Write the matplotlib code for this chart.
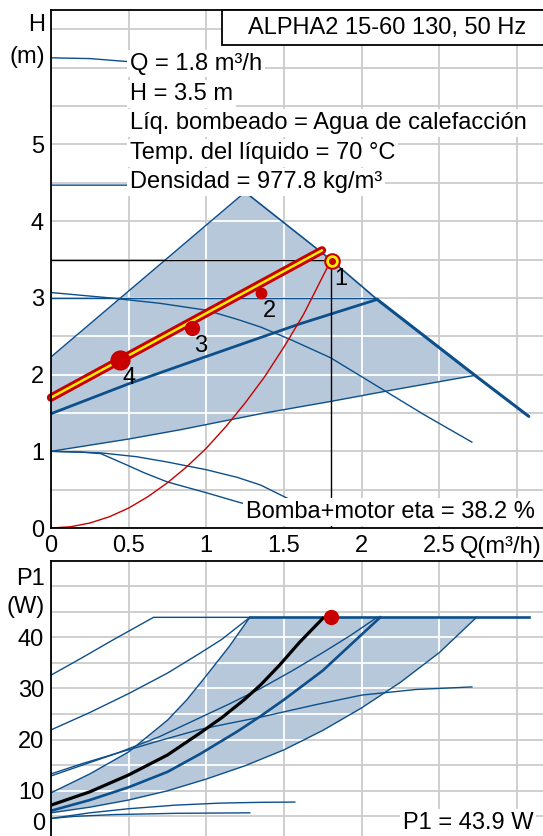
import matplotlib
matplotlib.use("agg")
import matplotlib.pyplot as plt
from matplotlib.patches import Polygon, Rectangle
import numpy as np

plt.rcParams["font.family"] = ["Liberation Sans", "DejaVu Sans"]

BLUE = "#0d4f8b"
SHADE = "#b6c8da"
GRID = "#cccccc"
RED = "#c80000"
YELLOW = "#fff000"
FS = 17

# ---------------- H(Q) chart ----------------
q_area_top = [0.0, 1.25]
h_area_top = [2.23, 4.38]
q_max = [1.25, 1.8, 2.1, 2.73, 3.08]
h_max = [4.38, 3.50, 2.98, 1.99, 1.45]
q_min = [0.0, 0.5, 0.83, 1.35, 1.8, 2.2, 2.73]
h_min = [1.0, 1.16, 1.28, 1.49, 1.65, 1.80, 1.99]
q_pp = [0.0, 0.5, 1.09, 1.6, 2.1]
h_pp = [1.49, 1.88, 2.30, 2.66, 2.98]
q_cp = [0.0, 2.1]
h_cp = [3.0, 3.0]
q_c3 = [0.0, 0.38, 0.7, 1.0, 1.2, 1.35, 1.55, 1.8, 2.1, 2.4, 2.71]
h_c3 = [3.07, 3.0, 2.93, 2.84, 2.72, 2.62, 2.45, 2.22, 1.85, 1.48, 1.12]
q_low_a = [0.0, 0.32, 0.55, 0.75, 1.0, 1.2, 1.35, 1.51, 1.7]
h_low_a = [1.0, 0.98, 0.93, 0.86, 0.76, 0.66, 0.56, 0.40, 0.22]
q_low_b = [0.0, 0.2, 0.32, 0.4, 0.49, 0.6, 0.75, 1.0, 1.22, 1.4]
h_low_b = [1.0, 0.99, 0.97, 0.9, 0.82, 0.72, 0.60, 0.46, 0.33, 0.25]
q_top1 = [0.0, 0.25, 0.5, 0.8]
h_top1 = [6.13, 6.12, 6.08, 6.0]
q_top2 = [0.0, 0.5, 0.8]
h_top2 = [4.47, 4.47, 4.46]
q_sys = [0, 0.125, 0.25, 0.375, 0.5, 0.625, 0.75, 0.875, 1.0, 1.125, 1.25,
         1.375, 1.5, 1.625, 1.8]
h_sys = [0, 0.016, 0.065, 0.146, 0.26, 0.41, 0.59, 0.8, 1.04, 1.32, 1.63,
         1.97, 2.36, 2.78, 3.48]
q_op = [0.0, 1.745]
h_op = [1.70, 3.62]
duty_q, duty_h = 1.8, 3.5
pt_q = [1.81, 1.35, 0.906, 0.444]
pt_h = [3.48, 3.07, 2.61, 2.19]
pt_lab = ["1", "2", "3", "4"]

info = ["Q = 1.8 m³/h", "H = 3.5 m", "Líq. bombeado = Agua de calefacción",
        "Temp. del líquido = 70 °C", "Densidad = 977.8 kg/m³"]
info_y = [0.8966, 0.8378, 0.7818, 0.7239, 0.6679]

# ---------------- P1(Q) chart ----------------
q_pa_up = [0.0, 0.25, 0.5, 0.75, 0.875, 1.0, 1.15, 1.28]
p_pa_up = [9.6, 13.3, 17.6, 23.8, 27.8, 32.5, 38.3, 43.9]
q_pa_lo = [0.0, 0.25, 0.5, 0.75, 1.0, 1.25, 1.5, 1.75, 2.0, 2.25, 2.5, 2.74]
p_pa_lo = [5.7, 6.8, 8.2, 10.0, 12.3, 14.9, 18.0, 21.8, 26.2, 31.2, 37.0, 43.9]
q_p1 = [0.0, 0.2, 0.4, 0.66, 1.28]
p_p1 = [32.6, 36.0, 39.5, 43.9, 43.9]
q_p2 = [0.0, 0.25, 0.5, 0.75, 0.96, 1.1, 1.28]
p_p2 = [21.9, 25.3, 29.0, 33.0, 36.9, 39.6, 43.9]
q_pmax = [1.28, 3.08]
p_pmax = [43.9, 43.9]
q_pp_p = [0.0, 0.25, 0.5, 0.75, 0.96, 1.2, 1.35, 1.5, 1.75, 2.12]
p_pp_p = [6.1, 8.2, 10.7, 13.7, 17.2, 21.6, 24.6, 27.8, 33.5, 43.9]
q_cp_p = [0.0, 0.2, 0.43, 0.7, 0.96, 1.15, 1.35, 1.55, 1.75, 1.93, 2.1]
p_cp_p = [12.9, 15.0, 17.4, 20.6, 24.3, 27.0, 30.0, 33.4, 37.0, 40.4, 43.9]
q_c3_p = [0.0, 0.2, 0.43, 0.7, 0.96, 1.15, 1.35, 1.7, 2.0, 2.35, 2.71]
p_c3_p = [13.3, 15.3, 17.4, 19.8, 22.0, 23.2, 24.4, 26.8, 28.7, 29.8, 30.3]
q_lowa_p = [0.0, 0.25, 0.5, 0.8, 1.09, 1.35, 1.57]
p_lowa_p = [4.6, 5.7, 6.5, 7.2, 7.6, 7.75, 7.8]
q_lowb_p = [0.0, 0.15, 0.4, 0.8, 1.28]
p_lowb_p = [4.6, 5.0, 5.35, 5.6, 5.7]
q_op_p = [0.0, 0.25, 0.5, 0.75, 0.96, 1.1, 1.24, 1.35, 1.47, 1.6, 1.75]
p_op_p = [7.2, 9.8, 13.1, 17.0, 21.3, 24.3, 27.7, 30.7, 34.5, 39.0, 43.7]
duty_p = 43.9

fig = plt.figure(figsize=(5.43, 8.36), dpi=100)
ax = fig.add_axes([0.0939, 0.3684, 0.9061, 0.6196])
ax2 = fig.add_axes([0.0939, 0.0, 0.9061, 0.3289])

for a in (ax, ax2):
    a.set_xlim(0, 3.168)
    a.set_xticks(np.arange(0, 3.01, 0.5))
    a.spines["right"].set_visible(False)
    for s in a.spines.values():
        s.set_linewidth(1.3)
        s.set_zorder(6)
    a.grid(True, color=GRID, lw=1.3)
    a.set_axisbelow(True)
    a.tick_params(length=0, labelsize=FS, pad=5)

ax.set_ylim(0, 6.753)
ax.set_yticks(np.arange(0, 6.51, 0.5))
ax.set_yticklabels([str(int(v)) if v == int(v) and v <= 5 else "" for v in np.arange(0, 6.51, 0.5)])
ax.set_xticklabels(["0", "0.5", "1", "1.5", "2", "2.5", ""])

ax2.set_ylim(1.17, 54.9)
ax2.set_yticks(np.arange(5, 50.1, 5))
ax2.set_yticklabels([str(int(v)) if v % 10 == 0 and v < 50 else "" for v in np.arange(5, 50.1, 5)])
ax2.set_xticklabels([])
ax2.spines["bottom"].set_visible(False)


def white_grid(a, poly, xs, ys):
    for x in xs:
        ln = a.axvline(x, color="white", lw=1.3, zorder=1.5)
        ln.set_clip_path(poly)
    for y in ys:
        ln = a.axhline(y, color="white", lw=1.3, zorder=1.5)
        ln.set_clip_path(poly)


# shaded area, top
area = np.vstack([
    np.column_stack([[0.0] + q_area_top, [h_min[0]] + h_area_top]),
    np.column_stack([q_max[1:4], h_max[1:4]]),
    np.column_stack([q_min[::-1], h_min[::-1]]),
])
poly = Polygon(area, closed=True, fc=SHADE, ec="none", zorder=1)
ax.add_patch(poly)
white_grid(ax, poly, np.arange(0.5, 3.01, 0.5), np.arange(0.5, 6.51, 0.5))

ax.plot(q_area_top, h_area_top, color=BLUE, lw=1.0, zorder=2)
ax.plot(q_max, h_max, color=BLUE, lw=1.2, zorder=2)
ax.plot(q_max[2:], h_max[2:], color=BLUE, lw=2.2, zorder=2, solid_capstyle="butt")
ax.plot(q_min, h_min, color=BLUE, lw=1.0, zorder=2)
ax.plot(q_pp, h_pp, color=BLUE, lw=2.0, zorder=2)
ax.plot(q_cp, h_cp, color=BLUE, lw=1.0, zorder=2)
ax.plot(q_c3, h_c3, color=BLUE, lw=1.0, zorder=2)
ax.plot(q_low_a, h_low_a, color=BLUE, lw=1.0, zorder=2)
ax.plot(q_low_b, h_low_b, color=BLUE, lw=1.0, zorder=2)
ax.plot(q_top1, h_top1, color=BLUE, lw=1.0, zorder=2)
ax.plot(q_top2, h_top2, color=BLUE, lw=1.0, zorder=2)
ax.plot(q_sys, h_sys, color=RED, lw=1.0, zorder=3)
ax.plot([0, duty_q], [duty_h, duty_h], color="black", lw=1.0, zorder=3)
ax.plot([duty_q, duty_q], [0, duty_h], color="black", lw=1.0, zorder=3)
ax.plot(q_op, h_op, color=RED, lw=6.0, solid_capstyle="round", zorder=4, clip_on=False)
ax.plot(q_op, h_op, color=YELLOW, lw=1.8, solid_capstyle="round", zorder=4, clip_on=False)

sizes = [10.5, 8.5, 11, 14.5]
for i in range(1, 4):
    ax.plot(pt_q[i], pt_h[i], "o", color=RED, ms=sizes[i], mec="none", zorder=5)
ax.plot(pt_q[0], pt_h[0], "o", mfc=YELLOW, mec=RED, mew=1.5, ms=sizes[0], zorder=5)
ax.plot(pt_q[0], pt_h[0], "o", color=RED, ms=4, zorder=5)
for q, h, lab in zip(pt_q, pt_h, pt_lab):
    ax.annotate(lab, (q, h), xytext=(6.5, -13), textcoords="offset points",
                fontsize=FS, ha="center", va="center", zorder=6)

for txt, y in zip(info, info_y):
    ax.text(0.1606, y, txt, transform=ax.transAxes, fontsize=FS, va="center", ha="left",
            zorder=7, bbox=dict(boxstyle="square,pad=0.12", fc="white", ec="none"))

ax.add_patch(Rectangle((0.3476, 0.9324), 0.7, 0.0676, transform=ax.transAxes,
                       fc="white", ec="black", lw=1.3, zorder=7, clip_on=False))
ax.text(0.4004, 0.9653, "ALPHA2 15-60 130, 50 Hz", transform=ax.transAxes,
        fontsize=FS, va="center", ha="left", zorder=8)
ax.text(0.984, 0.0309, "Bomba+motor eta = 38.2 %", transform=ax.transAxes, fontsize=FS,
        va="center", ha="right", zorder=7,
        bbox=dict(boxstyle="square,pad=0.12", fc="white", ec="none"))
ax.text(-0.0122, 0.971, "H", transform=ax.transAxes, fontsize=FS, va="center", ha="right")
ax.text(-0.0122, 0.909, "(m)", transform=ax.transAxes, fontsize=FS, va="center", ha="right")
ax.text(0.997, -0.0367, "Q(m³/h)", transform=ax.transAxes, fontsize=FS, va="center",
        ha="right")

# shaded area, bottom
area2 = np.vstack([
    np.column_stack([q_pa_up, p_pa_up]),
    np.column_stack([q_pa_lo[::-1], p_pa_lo[::-1]]),
])
poly2 = Polygon(area2, closed=True, fc=SHADE, ec="none", zorder=1)
ax2.add_patch(poly2)
white_grid(ax2, poly2, np.arange(0.5, 3.01, 0.5), np.arange(5, 50.1, 5))

ax2.plot(q_pa_up, p_pa_up, color=BLUE, lw=1.0, zorder=2)
ax2.plot(q_pa_lo, p_pa_lo, color=BLUE, lw=1.0, zorder=2)
ax2.plot(q_p1, p_p1, color=BLUE, lw=1.0, zorder=2)
ax2.plot(q_p2, p_p2, color=BLUE, lw=1.0, zorder=2)
ax2.plot(q_pmax, p_pmax, color=BLUE, lw=1.9, zorder=2)
ax2.plot(q_pp_p, p_pp_p, color=BLUE, lw=1.9, zorder=2)
ax2.plot(q_cp_p, p_cp_p, color=BLUE, lw=1.0, zorder=2)
ax2.plot(q_c3_p, p_c3_p, color=BLUE, lw=1.0, zorder=2)
ax2.plot(q_lowa_p, p_lowa_p, color=BLUE, lw=1.0, zorder=2)
ax2.plot(q_lowb_p, p_lowb_p, color=BLUE, lw=1.0, zorder=2)
ax2.plot(q_op_p, p_op_p, color="black", lw=2.3, zorder=3)
ax2.plot(duty_q, duty_p, "o", color=RED, ms=10, zorder=5)

ax2.text(-0.0122, 0.9345, "P1", transform=ax2.transAxes, fontsize=FS, va="center", ha="right")
ax2.text(-0.0122, 0.8327, "(W)", transform=ax2.transAxes, fontsize=FS, va="center", ha="right")
ax2.text(-0.0122, 0.042, "0", transform=ax2.transAxes, fontsize=FS, va="center", ha="right")
ax2.text(0.98, 0.047, "P1 = 43.9 W", transform=ax2.transAxes, fontsize=FS, va="center",
         ha="right", zorder=7, bbox=dict(boxstyle="square,pad=0.12", fc="white", ec="none"))

fig.savefig("out.png", dpi=100)
